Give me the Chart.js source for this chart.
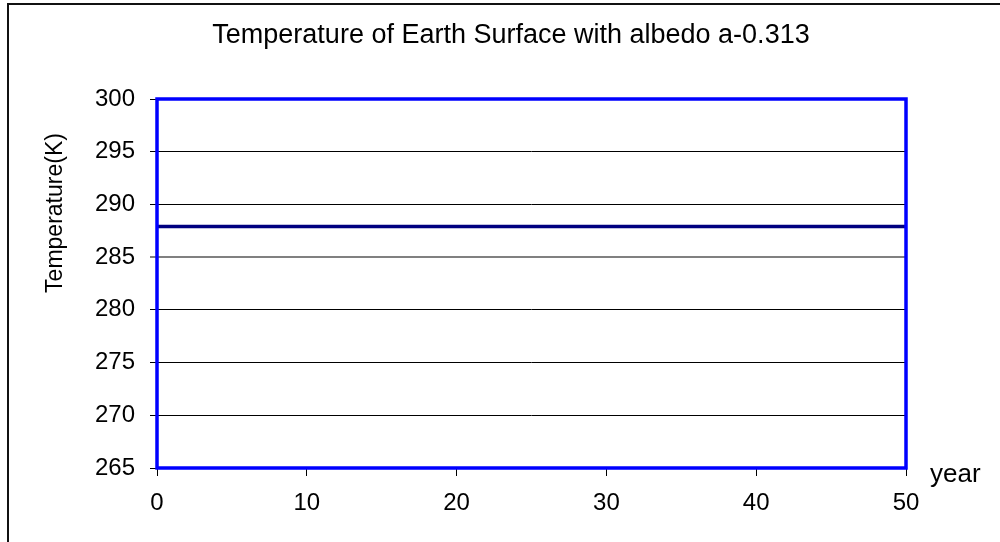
<!DOCTYPE html>
<html>
<head>
<meta charset="utf-8">
<script src="https://cdn.jsdelivr.net/npm/chart.js@4.4.1/dist/chart.umd.min.js"></script>
<style>
  html, body { margin: 0; padding: 0; background: #fff; }
  #wrap { width: 1000px; height: 542px; position: relative; }
</style>
</head>
<body>
<div id="wrap"><canvas id="c" width="1000" height="542"></canvas></div>
<script>
const titleText = "Temperature of Earth Surface with albedo a-0.313";
const yAxisTitle = "Temperature(K)";
const xAxisTitle = "year";
const years = [0,1,2,3,4,5,6,7,8,9,10,11,12,13,14,15,16,17,18,19,20,21,22,23,24,25,26,27,28,29,30,31,32,33,34,35,36,37,38,39,40,41,42,43,44,45,46,47,48,49,50];
const temperature = [287.9,287.9,287.9,287.9,287.9,287.9,287.9,287.9,287.9,287.9,287.9,287.9,287.9,287.9,287.9,287.9,287.9,287.9,287.9,287.9,287.9,287.9,287.9,287.9,287.9,287.9,287.9,287.9,287.9,287.9,287.9,287.9,287.9,287.9,287.9,287.9,287.9,287.9,287.9,287.9,287.9,287.9,287.9,287.9,287.9,287.9,287.9,287.9,287.9,287.9,287.9];
const yMin = 265, yMax = 300, yStep = 5;
const xMin = 0, xMax = 50, xStep = 10;

const FONT = "'Liberation Sans', Arial, sans-serif";

const decor = {
  id: 'decor',
  beforeDraw(chart) {
    const ctx = chart.ctx;
    ctx.save();
    ctx.fillStyle = '#fff';
    ctx.fillRect(0, 0, chart.width, chart.height);
    ctx.fillStyle = '#111';
    ctx.fillRect(7, 3, 2, chart.height - 3);
    ctx.fillRect(7, 3, chart.width - 7, 2);
    ctx.restore();
  },
  afterDatasetsDraw(chart) {
    const ctx = chart.ctx;
    const a = chart.chartArea;
    ctx.save();
    ctx.strokeStyle = '#0000FF';
    ctx.lineWidth = 3.5;
    ctx.strokeRect(a.left, a.top, a.right - a.left, a.bottom - a.top);
    ctx.restore();
  },
  afterDraw(chart) {
    const ctx = chart.ctx;
    const a = chart.chartArea;
    ctx.save();
    ctx.fillStyle = '#000';
    ctx.textBaseline = 'alphabetic';
    ctx.textAlign = 'center';
    ctx.font = '27px ' + FONT;
    ctx.fillText(titleText, 511, 43);
    ctx.textAlign = 'left';
    ctx.font = '26px ' + FONT;
    ctx.fillText(xAxisTitle, a.right + 24, a.bottom + 14);
    ctx.translate(62, 213);
    ctx.rotate(-Math.PI / 2);
    ctx.textAlign = 'center';
    ctx.font = '23px ' + FONT;
    ctx.fillText(yAxisTitle, 0, 0);
    ctx.restore();
  }
};

new Chart(document.getElementById('c'), {
  type: 'line',
  data: {
    datasets: [{
      data: years.map((x, i) => ({ x: x, y: temperature[i] })),
      borderColor: '#000080',
      borderWidth: 3.5,
      pointRadius: 0,
      fill: false,
      tension: 0
    }]
  },
  options: {
    responsive: false,
    animation: false,
    events: [],
    layout: { padding: { top: 99, right: 94, bottom: 0, left: 0 } },
    plugins: { legend: { display: false }, title: { display: false }, tooltip: { enabled: false } },
    scales: {
      x: {
        type: 'linear',
        min: xMin, max: xMax,
        afterFit(s) { s.height = 74; },
        border: { display: false },
        grid: { drawOnChartArea: false, color: '#000', lineWidth: 1, tickLength: 8 },
        ticks: { stepSize: xStep, color: '#000', padding: 13, font: { family: FONT, size: 24 } }
      },
      y: {
        min: yMin, max: yMax,
        afterFit(s) { s.width = 157; },
        border: { display: false },
        grid: {
          color: (c) => (c.tick && c.tick.value === 285) ? '#808080' : '#000',
          lineWidth: (c) => (c.tick && c.tick.value === 285) ? 2 : 1,
          tickLength: 7
        },
        ticks: { stepSize: yStep, color: '#000', padding: 15, font: { family: FONT, size: 24 } }
      }
    }
  },
  plugins: [decor]
});
</script>
</body>
</html>
